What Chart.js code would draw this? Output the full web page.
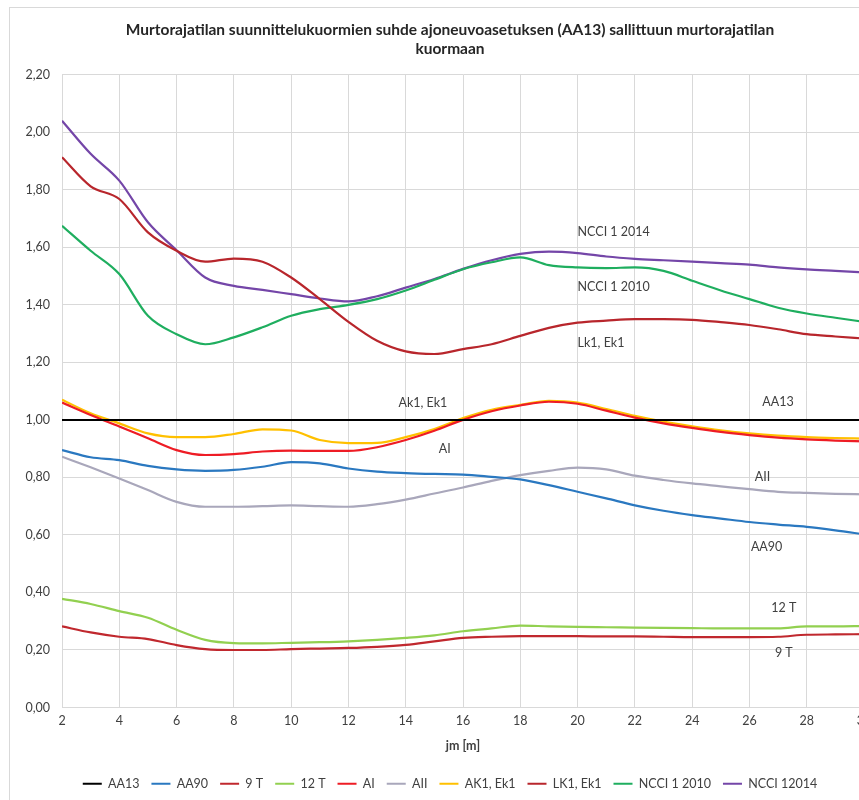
<!DOCTYPE html>
<html>
<head>
<meta charset="utf-8">
<title>Murtorajatilan suunnittelukuormat</title>
<script src="https://cdn.jsdelivr.net/npm/chart.js@4.4.0/dist/chart.umd.min.js"></script>
<style>
  html, body { margin: 0; padding: 0; background: #fff; overflow: hidden; }
  #wrap { position: relative; width: 880px; height: 800px; }
  #frame { position: absolute; left: 9px; top: 7px; width: 900px; height: 850px;
           border: 1px solid #d9d9d9; pointer-events: none; }
</style>
</head>
<body>
<div id="wrap">
  <canvas id="chart"></canvas>
  <div id="frame"></div>
</div>
<script>
// jm [m] positions (shared by every series)
const spans = [2, 3, 4, 5, 6, 7, 8, 9, 10, 11, 12, 13, 14, 15, 16, 17, 18, 19, 20, 21, 22, 23, 24, 25, 26, 27, 28, 29, 30];

// Ratio to AA13 load
const aa13   = [1, 1, 1, 1, 1, 1, 1, 1, 1, 1, 1, 1, 1, 1, 1, 1, 1, 1, 1, 1, 1, 1, 1, 1, 1, 1, 1, 1, 1];
const aa90   = [0.895, 0.87, 0.86, 0.84, 0.828, 0.823, 0.826, 0.837, 0.853, 0.849, 0.831, 0.82, 0.815, 0.812, 0.81, 0.802, 0.793, 0.773, 0.75, 0.727, 0.703, 0.684, 0.669, 0.657, 0.645, 0.636, 0.628, 0.616, 0.602];
const t9     = [0.282, 0.261, 0.246, 0.238, 0.217, 0.203, 0.2, 0.2, 0.203, 0.205, 0.207, 0.211, 0.218, 0.23, 0.242, 0.246, 0.248, 0.248, 0.248, 0.247, 0.247, 0.246, 0.245, 0.245, 0.245, 0.246, 0.253, 0.254, 0.255];
const t12    = [0.378, 0.36, 0.335, 0.312, 0.27, 0.235, 0.224, 0.223, 0.225, 0.227, 0.23, 0.235, 0.242, 0.251, 0.265, 0.275, 0.285, 0.282, 0.28, 0.279, 0.278, 0.277, 0.276, 0.275, 0.275, 0.275, 0.282, 0.282, 0.283];
const ai     = [1.06, 1.017, 0.977, 0.936, 0.895, 0.878, 0.881, 0.89, 0.893, 0.892, 0.892, 0.905, 0.93, 0.962, 1.0, 1.03, 1.05, 1.063, 1.056, 1.032, 1.008, 0.988, 0.972, 0.958, 0.947, 0.938, 0.932, 0.928, 0.925];
const aii    = [0.872, 0.835, 0.796, 0.756, 0.715, 0.698, 0.698, 0.7, 0.703, 0.7, 0.698, 0.707, 0.723, 0.744, 0.765, 0.788, 0.808, 0.823, 0.834, 0.828, 0.806, 0.791, 0.779, 0.769, 0.759, 0.75, 0.746, 0.743, 0.741];
const ak1    = [1.07, 1.023, 0.988, 0.953, 0.94, 0.94, 0.951, 0.967, 0.963, 0.93, 0.919, 0.92, 0.94, 0.968, 1.006, 1.035, 1.052, 1.066, 1.06, 1.038, 1.014, 0.994, 0.978, 0.964, 0.953, 0.945, 0.94, 0.937, 0.935];
const lk1    = [1.913, 1.812, 1.768, 1.652, 1.588, 1.55, 1.561, 1.55, 1.495, 1.42, 1.341, 1.275, 1.238, 1.229, 1.246, 1.263, 1.292, 1.32, 1.338, 1.345, 1.35, 1.35, 1.348, 1.34, 1.33, 1.315, 1.298, 1.29, 1.283];
const ncci10 = [1.675, 1.588, 1.507, 1.362, 1.298, 1.263, 1.287, 1.322, 1.362, 1.385, 1.4, 1.42, 1.45, 1.487, 1.524, 1.548, 1.565, 1.538, 1.53, 1.528, 1.53, 1.518, 1.484, 1.45, 1.42, 1.39, 1.37, 1.355, 1.341];
const ncci14 = [2.04, 1.925, 1.832, 1.687, 1.59, 1.495, 1.466, 1.452, 1.437, 1.422, 1.412, 1.43, 1.46, 1.49, 1.525, 1.555, 1.577, 1.585, 1.58, 1.568, 1.56, 1.555, 1.55, 1.545, 1.54, 1.53, 1.523, 1.518, 1.513];

const seriesNames = ['AA13', 'AA90', '9 T', '12 T', 'AI', 'AII', 'AK1, Ek1', 'LK1, Ek1', 'NCCI 1 2010', 'NCCI 12014'];
const seriesValues = [aa13, aa90, t9, t12, ai, aii, ak1, lk1, ncci10, ncci14];
const seriesColors = ['#000000', '#2a78c0', '#c0282e', '#92d050', '#ee1c25', '#a9a7bb', '#ffc000', '#b8262c', '#1fae5f', '#7446a8'];

// In-plot text labels (data coordinates)
const seriesLabels = [
  { text: 'NCCI 1 2014', x: 20.0, y: 1.653, align: 'left' },
  { text: 'NCCI 1 2010', x: 20.0, y: 1.462, align: 'left' },
  { text: 'Lk1, Ek1',    x: 20.0, y: 1.267, align: 'left' },
  { text: 'Ak1, Ek1',    x: 14.6, y: 1.058, align: 'center' },
  { text: 'AI',          x: 15.36, y: 0.898, align: 'center' },
  { text: 'AA13',        x: 27.0, y: 1.062, align: 'center' },
  { text: 'AII',         x: 26.46, y: 0.80, align: 'center' },
  { text: 'AA90',        x: 26.6, y: 0.557, align: 'center' },
  { text: '12 T',        x: 27.2, y: 0.345, align: 'center' },
  { text: '9 T',         x: 27.2, y: 0.188, align: 'center' }
];

const FONT = 'Lato, "Open Sans", sans-serif';
const TEXT = '#404040';

// Draws the series names inside the plot
const labelPlugin = {
  id: 'seriesLabels',
  afterDatasetsDraw(chart) {
    const { ctx, scales: { x, y } } = chart;
    ctx.save();
    ctx.font = '12.5px ' + FONT;
    ctx.fillStyle = TEXT;
    ctx.textBaseline = 'middle';
    seriesLabels.forEach(l => {
      ctx.textAlign = l.align;
      ctx.fillText(l.text, x.getPixelForValue(l.x), y.getPixelForValue(l.y));
    });
    ctx.restore();
  }
};

// Title and legend sit a little right of the canvas centre in the original
const shiftPlugin = {
  id: 'shiftBlocks',
  afterLayout(chart) {
    [chart.titleBlock, chart.legend].forEach(b => {
      if (b) { b.left += 18; b.right += 18; }
    });
  }
};

const datasets = seriesNames.map((name, i) => ({
  label: name,
  data: spans.map((s, j) => ({ x: s, y: seriesValues[i][j] })),
  borderColor: seriesColors[i],
  backgroundColor: seriesColors[i],
  borderWidth: i === 0 ? 2 : 2.2,
  pointRadius: 0,
  pointStyle: 'line',
  cubicInterpolationMode: 'monotone',
  fill: false
}));

new Chart(document.getElementById('chart'), {
  type: 'line',
  data: { datasets },
  options: {
    responsive: true,
    maintainAspectRatio: false,
    animation: false,
    layout: { padding: { left: 0, right: 16, top: 20, bottom: 0 } },
    plugins: {
      title: {
        display: true,
        text: ['Murtorajatilan suunnittelukuormien suhde ajoneuvoasetuksen (AA13) sallittuun murtorajatilan', 'kuormaan'],
        color: '#262626',
        font: { family: FONT, size: 15.5, weight: 'bold', lineHeight: 1.25 },
        padding: { top: 0, bottom: 16 }
      },
      legend: {
        position: 'bottom',
        labels: {
          usePointStyle: true,
          pointStyleWidth: 19,
          color: TEXT,
          font: { family: FONT, size: 12.5 },
          padding: 12
        }
      },
      tooltip: { enabled: false }
    },
    scales: {
      x: {
        type: 'linear',
        min: 2,
        max: 30,
        title: { display: true, text: 'jm [m]', color: TEXT, font: { family: FONT, size: 12.5, weight: 'bold' }, padding: { top: 4, bottom: 12 } },
        ticks: { stepSize: 2, color: TEXT, font: { family: FONT, size: 12.5 }, padding: 6, maxRotation: 0 },
        grid: { color: '#d9d9d9', tickLength: 0 },
        border: { color: '#d9d9d9' }
      },
      y: {
        min: 0,
        max: 2.2,
        afterFit(scale) { scale.width = 62; },
        ticks: {
          stepSize: 0.2,
          color: TEXT,
          font: { family: FONT, size: 12.5 },
          padding: 12,
          callback: v => v.toFixed(2).replace('.', ',')
        },
        grid: { color: '#d9d9d9', tickLength: 0 },
        border: { color: '#d9d9d9' }
      }
    }
  },
  plugins: [labelPlugin, shiftPlugin]
});
</script>
</body>
</html>
